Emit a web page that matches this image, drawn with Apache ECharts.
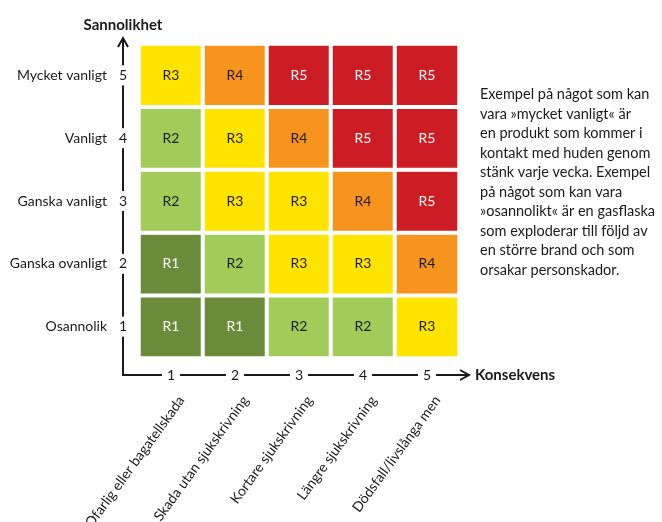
<!DOCTYPE html>
<html><head><meta charset="utf-8">
<script src="https://cdn.jsdelivr.net/npm/echarts@6/dist/echarts.min.js"></script>
<style>html,body{margin:0;padding:0;background:#fff}#c{width:662px;height:522px}</style>
</head><body><div id="c"></div>
<script>
const consequenceNumbers = ['1', '2', '3', '4', '5'];
const consequenceNames = ['Ofarlig eller bagatellskada', 'Skada utan sjukskrivning', 'Kortare sjukskrivning', 'Längre sjukskrivning', 'Dödsfall/livslånga men'];
const likelihoodNumbers = ['1', '2', '3', '4', '5'];
const likelihoodNames = ['Osannolik', 'Ganska ovanligt', 'Ganska vanligt', 'Vanligt', 'Mycket vanligt'];
// Risk level (R1..R5) for each likelihood row, across consequence columns 1..5
const riskL1 = [1, 1, 2, 2, 3];
const riskL2 = [1, 2, 3, 3, 4];
const riskL3 = [2, 3, 3, 4, 5];
const riskL4 = [2, 3, 4, 5, 5];
const riskL5 = [3, 4, 5, 5, 5];
const riskLevels = [1, 2, 3, 4, 5];
const riskColors = ['#6a8b3a', '#a2cc5a', '#ffe400', '#f7941e', '#cc1c24'];
const noteLines = [
  'Exempel på något som kan',
  'vara »mycket vanligt« är',
  'en produkt som kommer i',
  'kontakt med huden genom',
  'stänk varje vecka. Exempel',
  'på något som kan vara',
  '»osannolikt« är en gasflaska',
  'som exploderar till följd av',
  'en större brand och som',
  'orsakar personskador.'
];

const rows = [riskL1, riskL2, riskL3, riskL4, riskL5];
const heatData = [];
rows.forEach((row, r) => row.forEach((v, c) => heatData.push([c, r, v])));

const FONT = 'Lato';
const INK = '#1a1a1a';
const chart = echarts.init(document.getElementById('c'), null, {renderer: 'canvas'});
chart.setOption({
  animation: false,
  textStyle: {fontFamily: FONT},
  grid: {left: 139, right: 203, top: 44, bottom: 164, containLabel: false, outerBoundsMode: 'none'},
  visualMap: {
    type: 'piecewise', show: false, dimension: 2, seriesIndex: 0,
    pieces: riskLevels.map((v, i) => ({value: v, color: riskColors[i]}))
  },
  xAxis: [
    {
      type: 'category', data: consequenceNumbers, position: 'bottom', offset: 17, z: 10,
      axisLine: {show: false}, axisTick: {show: false}, splitLine: {show: false},
      axisLabel: {margin: 0, verticalAlign: 'middle', backgroundColor: '#fff', padding: [2, 5], fontSize: 14, color: INK, fontFamily: FONT},
      name: 'Konsekvens', nameLocation: 'end', nameGap: 16,
      nameTextStyle: {fontWeight: 'bold', fontSize: 15, color: INK, verticalAlign: 'middle', fontFamily: FONT}
    },
    {
      type: 'category', data: consequenceNames, position: 'bottom', offset: 0,
      axisLine: {show: false}, axisTick: {show: false}, splitLine: {show: false},
      axisLabel: {rotate: 54, interval: 0, margin: 32, verticalAlign: 'top', padding: [6, 0, 0, 0], fontSize: 14, color: INK, fontFamily: FONT}
    }
  ],
  yAxis: [
    {
      type: 'category', data: likelihoodNumbers, position: 'left', offset: 16, z: 10,
      axisLine: {show: false}, axisTick: {show: false}, splitLine: {show: false},
      axisLabel: {margin: 0, align: 'center', backgroundColor: '#fff', padding: [3, 2], fontSize: 14, color: INK, fontFamily: FONT},
      name: 'Sannolikhet', nameLocation: 'end', nameGap: 11,
      nameTextStyle: {fontWeight: 'bold', fontSize: 15, color: INK, align: 'center', fontFamily: FONT}
    },
    {
      type: 'category', data: likelihoodNames, position: 'left', offset: 16,
      axisLine: {show: false}, axisTick: {show: false}, splitLine: {show: false},
      axisLabel: {margin: 16, fontSize: 14, color: INK, fontFamily: FONT}
    }
  ],
  graphic: [
    {type: 'polyline', z: 1, shape: {points: [[123, 39], [123, 375], [468, 375]]}, style: {stroke: INK, lineWidth: 2, fill: null}},
    {type: 'polyline', z: 1, shape: {points: [[118, 47], [123, 38], [128, 47]]}, style: {stroke: INK, lineWidth: 2, fill: null}},
    {type: 'polyline', z: 1, shape: {points: [[460, 370], [469, 375], [460, 380]]}, style: {stroke: INK, lineWidth: 2, fill: null}},
    {type: 'text', left: 480, top: 85, style: {text: noteLines.join('\n'), font: '14.5px ' + FONT, fill: INK, lineHeight: 19.5}}
  ],
  series: [{
    type: 'heatmap', xAxisIndex: 0, yAxisIndex: 0, data: heatData,
    itemStyle: {borderColor: '#fff', borderWidth: 4},
    label: {
      show: true, fontFamily: FONT,
      formatter: p => '{' + ((p.value[2] === 1 || p.value[2] === 5) ? 'w' : 'd') + '|R' + p.value[2] + '}',
      rich: {w: {color: '#fff', fontSize: 14, fontFamily: FONT}, d: {color: INK, fontSize: 14, fontFamily: FONT}}
    },
    emphasis: {disabled: true}
  }]
});
</script></body></html>
